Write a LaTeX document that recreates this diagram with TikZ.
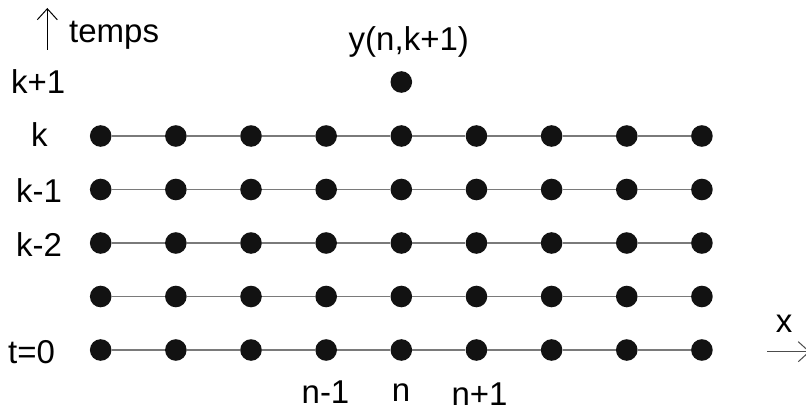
\documentclass[tikz,border=0pt]{standalone}
\usepackage{fontspec}
\setmainfont{Liberation Sans}
\usetikzlibrary{arrows.meta}
\begin{document}
\begin{tikzpicture}[x=1pt,y=-1pt,
  dot/.style={circle,fill=black!93,minimum size=21.6pt,inner sep=0pt},
  link/.style={draw=black!52,line width=1.5pt},
  lbl/.style={inner sep=0pt,font=\fontsize{33}{38}\selectfont},
  axis/.style={line width=1pt,-{Straight Barb[length=11pt,width=20pt,line width=1pt]}}]
\useasboundingbox (0,0) rectangle (806,412);
% grid of dots
\foreach \j in {0,...,4}{
  \foreach \i in {0,...,8}{
    \node[dot] (d-\i-\j) at ({100.7+75.15*\i},{350-53.5*\j}) {};
  }
  \foreach \i [evaluate=\i as \k using int(\i+1)] in {0,...,7}{
    \draw[link] (d-\i-\j) -- (d-\k-\j);
  }
}
\node[dot] (top) at (401.3,82) {};
% labels
\node[lbl,anchor=base west] (temps) at (69,42.7) {temps};
\node[lbl,anchor=base west] (lk1) at (11,93) {k+1};
\node[lbl,anchor=base west] (lk) at (31,146) {k};
\node[lbl,anchor=base west] (lkm1) at (16,202.7) {k-1};
\node[lbl,anchor=base west] (lkm2) at (16,256.7) {k-2};
\node[lbl,anchor=base west] (lt0) at (8,363.3) {t=0};
\node[lbl,anchor=base] (ly) at (408.8,50.7) {y(n,k+1)};
\node[lbl,anchor=base] (lnm1) at (325.5,403) {n-1};
\node[lbl,anchor=base] (ln) at (401,401) {n};
\node[lbl,anchor=base] (lnp1) at (479.5,405) {n+1};
\node[lbl,anchor=base] (lx) at (784,332) {x};
% axes arrows
\coordinate (ta) at (47.3,50);
\coordinate (tb) at (47.3,8);
\draw[axis] (ta) -- (tb);
\coordinate (xa) at (767,351.7);
\coordinate (xb) at (810,351.7);
\draw[axis,draw=black!70] (xa) -- (xb);
\end{tikzpicture}
\end{document}
